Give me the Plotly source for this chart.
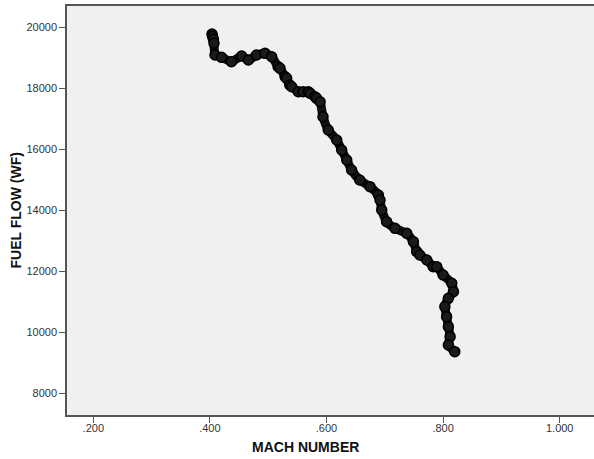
import plotly.graph_objects as go

# Data (Mach number vs fuel flow)
mach = [0.4036, 0.4045, 0.4060, 0.4070, 0.4088, 0.4200, 0.4370, 0.4545, 0.4660,
        0.4800, 0.4945, 0.5060, 0.5170, 0.5203, 0.5290, 0.5317, 0.5370, 0.5403,
        0.5516, 0.5600, 0.5688, 0.5720, 0.5803, 0.5830, 0.5890, 0.5940, 0.6030,
        0.6175, 0.6260, 0.6347, 0.6430, 0.6570, 0.6746, 0.6890, 0.6918, 0.6947,
        0.7030, 0.7175, 0.7376, 0.7490, 0.7547, 0.7600, 0.7720, 0.7830, 0.7890,
        0.8000, 0.8148, 0.8177, 0.8090, 0.8030, 0.8060, 0.8090, 0.8120, 0.8090,
        0.8200]
fuel_flow = [19770, 19700, 19600, 19465, 19082, 19006, 18863, 19049, 18918,
             19082, 19137, 19026, 18699, 18646, 18371, 18318, 18100, 18043,
             17879, 17880, 17879, 17826, 17715, 17662, 17551, 17059, 16623,
             16295, 15967, 15639, 15311, 14984, 14765, 14492, 14328, 14000,
             13617, 13399, 13235, 12962, 12634, 12525, 12361, 12142, 12142,
             11869, 11596, 11323, 11104, 10831, 10503, 10175, 9847, 9574,
             9355]

x_tickvals = [0.2, 0.4, 0.6, 0.8, 1.0]
x_ticktext = [".200", ".400", ".600", ".800", "1.000"]
y_tickvals = [8000, 10000, 12000, 14000, 16000, 18000, 20000]
y_ticktext = ["8000", "10000", "12000", "14000", "16000", "18000", "20000"]

fig = go.Figure()
fig.add_trace(go.Scatter(
    x=mach, y=fuel_flow, mode="lines+markers",
    line=dict(color="#111111", width=9, shape="spline", smoothing=0.5),
    marker=dict(symbol="circle", size=10, color="#1a1a1a",
                line=dict(color="#000000", width=1.5)),
    showlegend=False,
))

axis_font = dict(family="Liberation Sans, Arial, sans-serif", size=11, color="#333333")

fig.update_layout(
    width=594, height=459,
    margin=dict(l=67, r=0, t=6, b=44),
    paper_bgcolor="white",
    plot_bgcolor="#f0f0f0",
    xaxis=dict(
        range=[0.1549, 1.0588], tickvals=x_tickvals, ticktext=x_ticktext,
        showgrid=False, zeroline=False, showline=True, linecolor="#555555",
        linewidth=1.5, mirror=True, ticks="outside", ticklen=6, tickcolor="#555555",
        tickfont=axis_font, ticklabelstandoff=-4,
    ),
    yaxis=dict(
        range=[7279, 20689], tickvals=y_tickvals, ticktext=y_ticktext,
        showgrid=False, zeroline=False, showline=True, linecolor="#555555",
        linewidth=1.5, ticks="outside", ticklen=6, tickcolor="#555555",
        tickfont=axis_font,
    ),
    annotations=[
        dict(text="<b>MACH NUMBER</b>", xref="paper", yref="paper",
             x=(305 - 67) / 527, y=-(447 - 415) / 409, showarrow=False,
             xanchor="center", yanchor="middle",
             font=dict(family="Liberation Sans, Arial, sans-serif", size=14, color="#111111")),
        dict(text="<b>FUEL FLOW (WF)</b>", xref="paper", yref="paper",
             x=-(67 - 15) / 527, y=0.5, showarrow=False, textangle=-90,
             xanchor="center", yanchor="middle",
             font=dict(family="Liberation Sans, Arial, sans-serif", size=14, color="#111111")),
    ],
)

fig.write_html("out.html")
